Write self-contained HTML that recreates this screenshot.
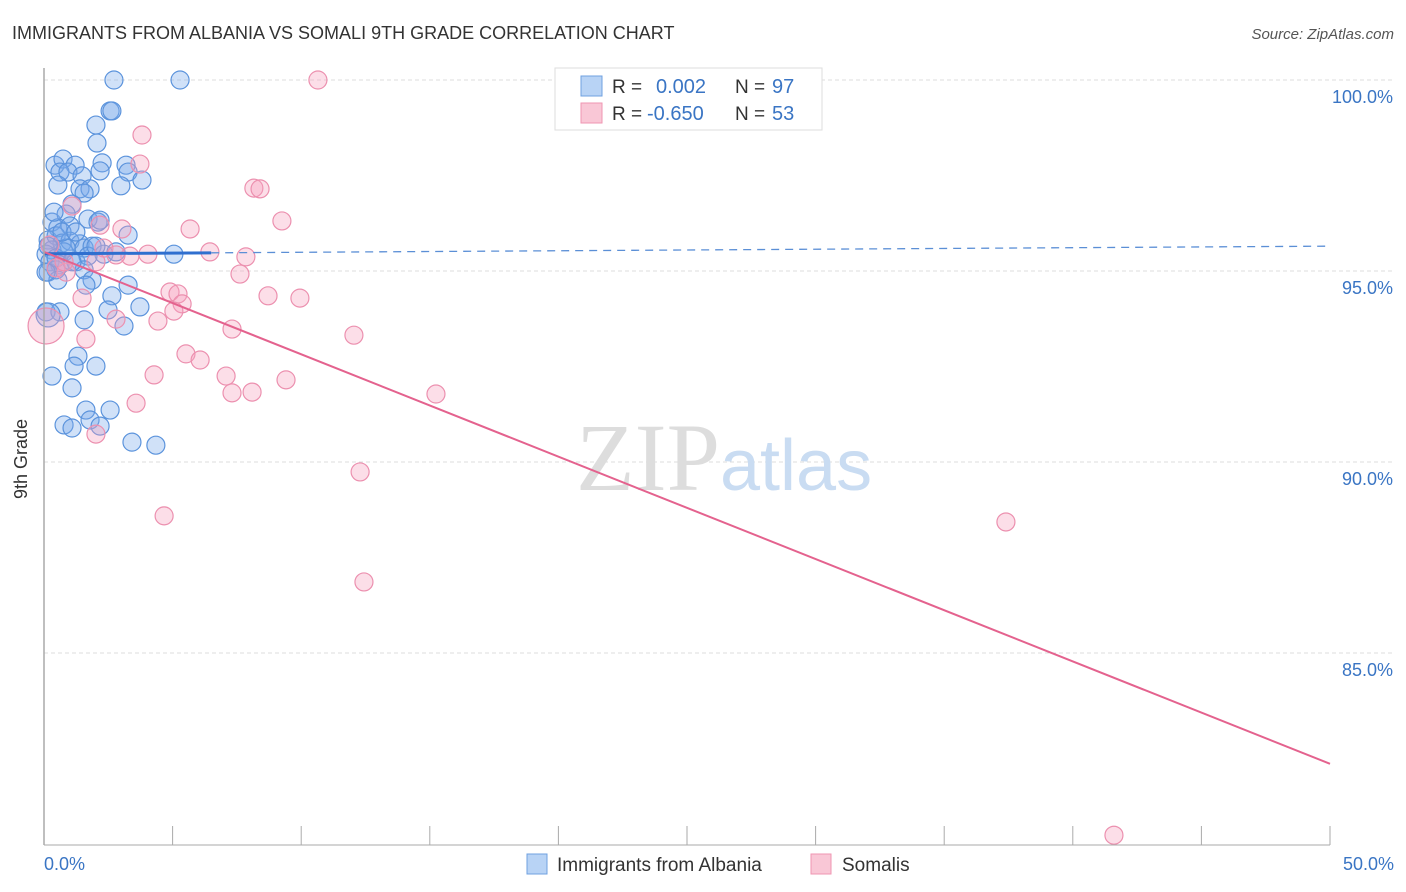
<!DOCTYPE html>
<html><head><meta charset="utf-8">
<style>
body{margin:0;background:#fff;font-family:"Liberation Sans",sans-serif;}
svg{display:block}
</style></head>
<body>
<svg id="chart" width="1406" height="892" viewBox="0 0 1406 892">
<text x="12" y="39" font-size="18" fill="#333">IMMIGRANTS FROM ALBANIA VS SOMALI 9TH GRADE CORRELATION CHART</text>
<text x="1394" y="39" font-size="15" fill="#555" font-style="italic" text-anchor="end">Source: ZipAtlas.com</text>
<g id="grid"></g>
<g id="yticks"></g>
<text x="720" y="490" font-size="96" fill="#ddd" font-family="Liberation Serif,serif" text-anchor="end">ZIP</text>
<text x="720" y="490" font-size="72" fill="#c9dcf2" text-anchor="start">atlas</text>
<g id="pts"></g>
<g id="trends"></g>
<line x1="44" y1="68" x2="44" y2="845" stroke="#aaa" stroke-width="1.5"/>
<line x1="44" y1="845" x2="1330" y2="845" stroke="#aaa" stroke-width="1"/>
<g id="xticks"></g>
<text x="24" y="456" font-size="18" fill="#333" text-anchor="middle" transform="rotate(-90 27 456)">9th Grade</text>
<text x="44" y="870" font-size="18" fill="#3a75c4">0.0%</text>
<text x="1394" y="870" font-size="18" fill="#3a75c4" text-anchor="end">50.0%</text>
<g>
<rect x="555" y="68" width="267" height="62" fill="#fff" stroke="#ddd"/>
<rect x="581" y="76" width="21" height="20" fill="#b8d3f5" stroke="#6fa0e0"/>
<rect x="581" y="103" width="21" height="20" fill="#f9c7d6" stroke="#ef95b2"/>
<text x="612" y="93" font-size="19" fill="#333">R =</text>
<text x="656" y="93" font-size="20" fill="#3a75c4">0.002</text>
<text x="735" y="93" font-size="19" fill="#333">N =</text>
<text x="772" y="93" font-size="20" fill="#3a75c4">97</text>
<text x="612" y="120" font-size="19" fill="#333">R =</text>
<text x="647" y="120" font-size="20" fill="#3a75c4">-0.650</text>
<text x="735" y="120" font-size="19" fill="#333">N =</text>
<text x="772" y="120" font-size="20" fill="#3a75c4">53</text>
</g>
<g>
<rect x="527" y="854" width="20" height="20" fill="#b8d3f5" stroke="#6fa0e0"/>
<text x="557" y="871" font-size="19" fill="#333">Immigrants from Albania</text>
</g>
<g>
<rect x="811" y="854" width="20" height="20" fill="#f9c7d6" stroke="#ef95b2"/>
<text x="842" y="871" font-size="19" fill="#333">Somalis</text>
</g>
</svg>
<script>
const blueX=[2.72,5.29,2.57,2.64,2.02,2.06,0.43,0.74,1.21,2.26,3.19,0.62,0.93,1.48,2.18,3.27,3.81,0.54,1.40,1.79,2.99,1.56,1.09,0.31,0.86,1.71,2.10,0.54,1.01,3.27,0.16,0.47,0.70,1.01,1.40,1.56,1.87,0.31,0.08,0.78,2.33,2.80,5.05,0.23,0.62,1.24,1.71,0.16,0.47,1.56,1.87,1.63,3.27,2.64,3.73,2.49,1.56,3.11,0.08,0.62,0.31,1.32,1.17,2.02,1.09,1.63,2.57,0.78,1.09,1.79,2.18,3.42,4.35,0.16,0.47,0.86,0.54,1.09,2.02,0.70,0.08,1.24,0.39,2.18,0.16];
const blueY=[100,100,99.19,99.19,98.82,98.35,97.77,97.93,97.77,97.83,97.77,97.59,97.59,97.49,97.62,97.59,97.38,97.25,97.15,97.15,97.23,97.04,96.75,96.28,96.49,96.36,96.28,96.13,96.18,95.94,95.81,95.92,95.73,95.78,95.71,95.60,95.65,95.55,95.44,95.50,95.44,95.50,95.44,95.24,95.16,95.24,95.39,94.97,95.03,95.03,94.76,94.63,94.63,94.35,94.06,93.98,93.72,93.56,93.93,93.93,92.25,92.77,92.51,92.51,91.94,91.36,91.36,90.97,90.89,91.10,90.94,90.52,90.44,95.65,95.34,95.60,94.76,95.24,95.65,96.02,94.97,96.02,96.54,96.33,93.85];
const pinkX=[10.65,3.81,3.73,8.16,8.40,9.25,5.68,3.03,2.18,1.09,6.45,7.85,7.62,3.34,4.04,2.33,2.80,0.86,1.48,4.90,5.21,5.37,5.05,4.43,2.80,8.71,9.95,7.31,12.05,5.52,6.07,7.08,7.31,8.09,9.41,4.28,1.63,3.58,2.02,15.24,12.29,4.67,12.44,37.40,41.60,0.47,0.78,2.02,0.23,0.08];
const pinkY=[100,98.56,97.80,97.17,97.15,96.31,96.10,96.10,96.20,96.70,95.50,95.37,94.92,95.39,95.44,95.60,95.42,94.97,94.29,94.45,94.40,94.14,93.95,93.69,93.74,94.35,94.29,93.48,93.32,92.83,92.67,92.25,91.81,91.83,92.15,92.28,93.22,91.54,90.73,91.78,89.74,88.59,86.86,88.43,80.23,95.08,95.24,95.24,95.68,93.56];
const yTicks=[100,95,90,85];
const xTicks=[0,5,10,15,20,25,30,35,40,45,50];
const blueTrend=[[0,95.45],[50,95.65]];
const pinkTrend=[[0,95.5],[50,82.1]];
const NS='http://www.w3.org/2000/svg';
const sx=v=>44+v*25.72, sy=v=>80+(100-v)*38.2;
function mk(tag,parent,attrs){const e=document.createElementNS(NS,tag);for(const k in attrs)e.setAttribute(k,attrs[k]);document.getElementById(parent).appendChild(e);return e;}
yTicks.forEach(t=>{
 const l=mk('line','grid',{x1:44,x2:1393,y1:sy(t),y2:sy(t),stroke:'#ddd','stroke-dasharray':'4 3'});
 
 
 const tx=mk('text','yticks',{x:1393,y:sy(t)+23,'font-size':18,fill:'#3a75c4','text-anchor':'end'});
 tx.textContent=t.toFixed(1)+'%';
 
 
});
xTicks.forEach(t=>{
 const l=mk('line','xticks',{x1:sx(t),x2:sx(t),y1:826,y2:845,stroke:'#aaa'});
 
 
});
blueX.forEach((x,i)=>{
 const c=mk('circle','pts',{cx:sx(x),cy:sy(blueY[i]),r:i===blueX.length-1?12:9,fill:'rgba(120,170,235,0.35)',stroke:'#5b93dc','stroke-width':1.2});
 
 
});
pinkX.forEach((x,i)=>{
 const c=mk('circle','pts',{cx:sx(x),cy:sy(pinkY[i]),r:i===pinkX.length-1?18:9,fill:'rgba(245,160,190,0.35)',stroke:'#ec90af','stroke-width':1.2});
 
 
});
const bEnd=blueTrend[0][1]+(blueTrend[1][1]-blueTrend[0][1])*6.5/50;
let l1=mk('line','trends',{x1:sx(blueTrend[0][0]),y1:sy(blueTrend[0][1]),x2:sx(6.5),y2:sy(bEnd),stroke:'#2f6fcf','stroke-width':3});


let l2=mk('line','trends',{x1:sx(6.5),y1:sy(bEnd),x2:sx(blueTrend[1][0]),y2:sy(blueTrend[1][1]),stroke:'#5b8fd6','stroke-width':1.3,'stroke-dasharray':'8 6'});


let l3=mk('line','trends',{x1:sx(pinkTrend[0][0]),y1:sy(pinkTrend[0][1]),x2:sx(pinkTrend[1][0]),y2:sy(pinkTrend[1][1]),stroke:'#e4628e','stroke-width':2});


</script>
</body></html>
